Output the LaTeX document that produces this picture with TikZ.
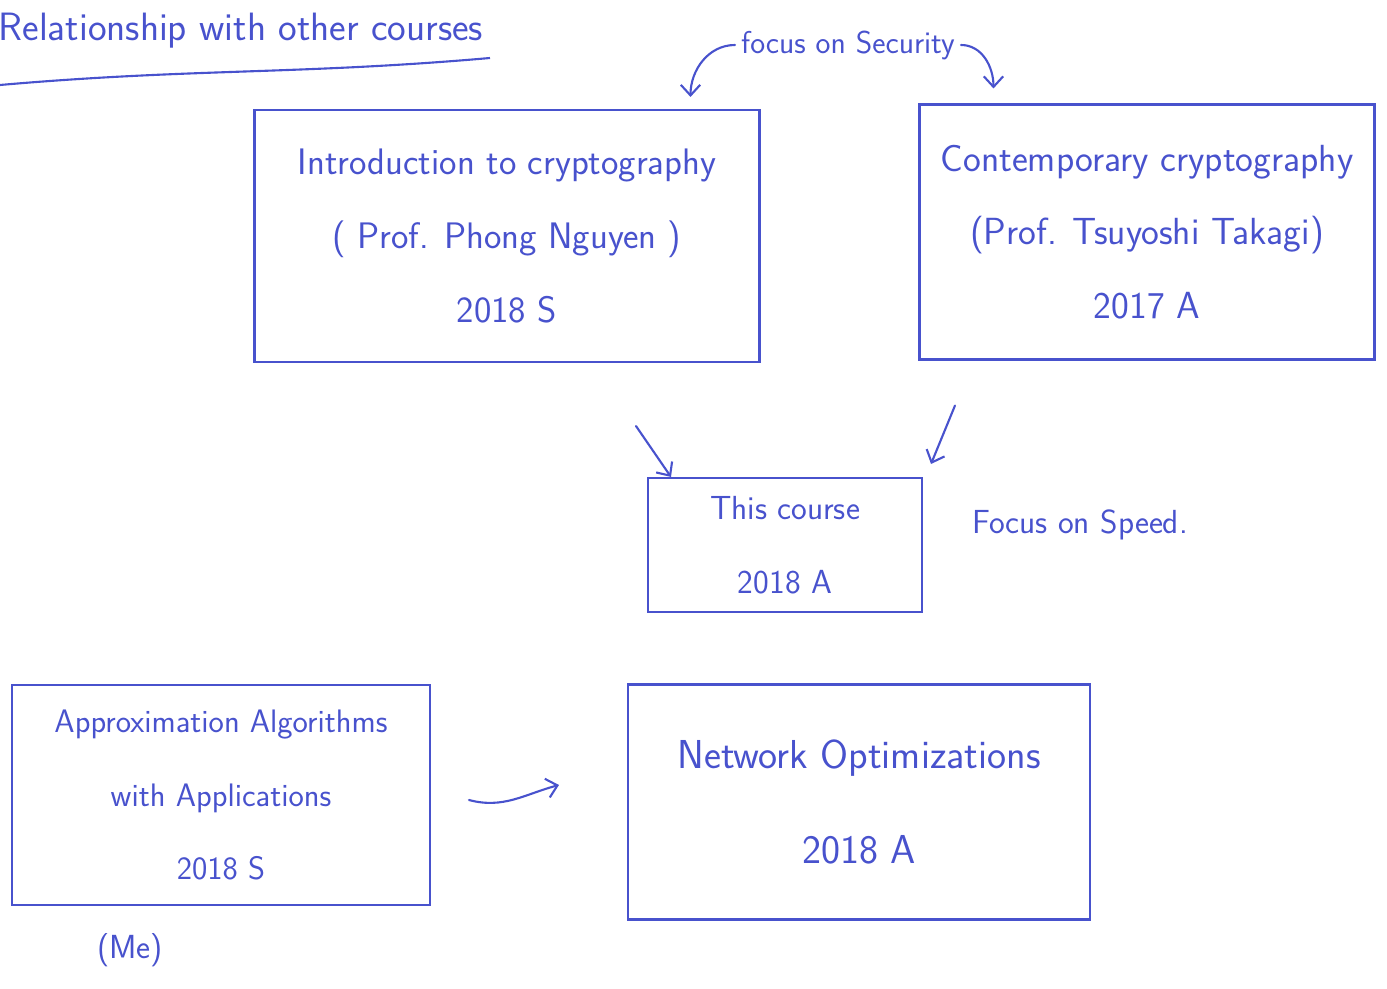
\documentclass[tikz,border=0pt]{standalone}
\usepackage{tikz}
\usetikzlibrary{arrows.meta,positioning,calc}
\definecolor{ink}{RGB}{72,82,205}
\newcommand{\inkfont}[1]{\sffamily\fontsize{#1}{42}\selectfont}

\begin{document}
\begin{tikzpicture}[x=0.02cm, y=0.02cm,
    every node/.style={font=\inkfont{18}, text=ink},
    course/.style={draw=ink, line width=1.2pt, align=center, inner sep=0pt},
    stroke/.style={draw=ink, line width=1.2pt},
    inkarrow/.style={stroke, -{Straight Barb[length=6pt,width=11pt]}, line cap=round}]
\useasboundingbox (0,0) rectangle (1387,988);

% heading
\node[anchor=south east, inner sep=2pt, font=\inkfont{22.5}] (title) at (487,936) {Relationship with other courses};
\draw[stroke] (0,903) to[out=5,in=185] (490,930);

% the courses
\node[course, font=\inkfont{21}, minimum width=10.1cm, minimum height=5.04cm] (intro) at (507,752)
    {Introduction to cryptography\\( Prof. Phong Nguyen )\\2018 S};
\node[course, font=\inkfont{21.5}, minimum width=9.1cm, minimum height=5.1cm] (contemp) at (1147,756)
    {Contemporary cryptography\\(Prof. Tsuyoshi Takagi)\\2017 A};
\node[course, font=\inkfont{19}, minimum width=5.48cm, minimum height=2.68cm] (thiscourse) at (785,443)
    {This course\\2018 A};
\node[course, font=\inkfont{18.5}, minimum width=8.36cm, minimum height=4.4cm] (approx) at (221,193)
    {Approximation Algorithms\\with Applications\\2018 S};
\node[course, font=\inkfont{23}, minimum width=9.24cm, minimum height=4.7cm] (network) at (859,186)
    {Network Optimizations\\[12pt]2018 A};

% notes
\node (security) at (848,943) {focus on Security};
\node[font=\inkfont{19}] (speed) at (1080,463) {Focus on Speed.};
\node[font=\inkfont{19}] (me) at (130,38) {(Me)};

% connectors
\draw[inkarrow] (security.west) to[out=180,in=90] ($(intro.north east)+(-70,12)$);
\draw[inkarrow] (security.east) to[out=0,in=90] ($(contemp.north west)+(75,15)$);
\draw[inkarrow] ($(intro.south)+(129,-63)$) -- ($(thiscourse.north west)+(24,0)$);
\draw[inkarrow] ($(contemp.south)+(-192,-45)$) -- ($(thiscourse.north east)+(8,13)$);
\draw[inkarrow] ($(approx.east)+(38,-5)$) to[out=-15,in=195] ($(network.west)+(-68,17)$);
\end{tikzpicture}
\end{document}
